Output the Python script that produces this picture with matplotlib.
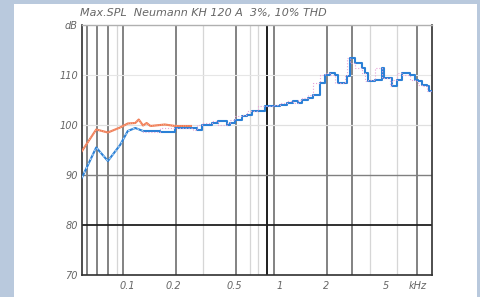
import matplotlib
matplotlib.use("Agg")
import matplotlib.pyplot as plt
from matplotlib.patches import Rectangle

title = "Max.SPL  Neumann KH 120 A  3%, 10% THD"

# Blue curve (3% THD)
blue_freq = [0.050, 0.062, 0.074, 0.089, 0.100, 0.112, 0.126, 0.163, 0.205, 0.269,
             0.285, 0.308, 0.358, 0.393, 0.450, 0.471, 0.508, 0.565, 0.609, 0.657,
             0.719, 0.800, 0.903, 1.005, 1.117, 1.222, 1.318, 1.40, 1.535, 1.66,
             1.84, 1.99, 2.14, 2.31, 2.42, 2.69, 2.77, 2.90, 3.13, 3.48,
             3.64, 3.81, 4.24, 4.71, 4.82, 5.31, 5.47, 5.86, 6.37, 7.19,
             7.76, 8.12, 8.63, 9.31, 9.60, 10.0]
blue_db = [89.5, 95.5, 92.8, 96.0, 98.8, 99.4, 98.8, 98.7, 99.4, 99.4,
           99.1, 100.1, 100.4, 100.8, 100.1, 100.4, 101.1, 101.8, 102.1, 102.8,
           102.8, 103.8, 103.8, 104.1, 104.5, 104.8, 104.5, 105.1, 105.4, 106.1,
           108.4, 110.1, 110.4, 110.1, 108.4, 108.4, 109.8, 113.4, 112.4, 111.4,
           110.4, 108.8, 109.1, 111.4, 109.4, 109.4, 107.8, 109.1, 110.4, 110.1,
           109.1, 108.8, 108.1, 107.8, 106.8, 106.8]

# Orange curve (10% THD)
orange_freq = [0.050, 0.062, 0.074, 0.089, 0.100, 0.112, 0.118, 0.126, 0.133, 0.141,
               0.175, 0.205, 0.260]
orange_db = [94.8, 99.1, 98.5, 99.5, 100.3, 100.4, 101.1, 99.9, 100.4, 99.8,
             100.1, 99.8, 99.8]

grid_dark = [0.054, 0.063, 0.0745, 0.093, 0.2076, 0.515, 0.82, 0.91, 2.04, 3.0, 7.97]
grid_faint = [0.085, 0.314, 0.64, 0.72, 3.9, 5.9]

x_ticks = [0.1, 0.2, 0.5, 1, 2, 5, 8.1]
x_labels = ["0.1", "0.2", "0.5", "1", "2", "5", "kHz"]
y_ticks = [70, 80, 90, 100, 110, 120]
y_labels = ["70", "80", "90", "100", "110", "dB"]

fig = plt.figure(figsize=(4.8, 2.97), dpi=100)
fig.patch.set_facecolor("#b9c9dd")
fig.patches.append(Rectangle((14 / 480, 0), (477 - 14) / 480, 1 - 4 / 297,
                             transform=fig.transFigure, facecolor="white",
                             edgecolor="none", zorder=-5))

ax = fig.add_axes([82 / 480, 1 - 275 / 297, 350 / 480, 250 / 297])
ax.set_facecolor("white")
ax.set_xscale("log")
ax.set_xlim(0.05, 10.0)
ax.set_ylim(70, 120)

for f in grid_faint:
    ax.axvline(f, color="#d6d6d6", lw=0.9, zorder=1)
for f in grid_dark:
    ax.axvline(f, color="#606060", lw=1.1, zorder=1)
ax.axvline(0.82, color="#222222", lw=1.4, zorder=1)

ax.axhline(110, color="#e6e6e6", lw=0.8, zorder=1)
ax.axhline(100, color="#e0e0e0", lw=0.9, zorder=1)
ax.axhline(90, color="#808080", lw=1.0, zorder=1)
ax.axhline(80, color="#202020", lw=1.3, zorder=1)

ax.plot(orange_freq, orange_db, color="#f07a52", lw=1.5, zorder=3)
ax.plot(orange_freq, orange_db, color="#f9c0a8", lw=0.6, ls=":", zorder=3)

n_lin = 7
ax.plot(blue_freq[:n_lin], blue_db[:n_lin], color="#2a80d6", lw=1.5, zorder=4)
ax.plot(blue_freq[n_lin - 1:], blue_db[n_lin - 1:], color="#2a80d6", lw=1.5,
        drawstyle="steps-post", zorder=4)
ax.plot(blue_freq[n_lin - 1:], blue_db[n_lin - 1:], color="#e7a3d8", lw=0.8,
        ls=":", drawstyle="steps-pre", zorder=5)
ax.plot(blue_freq[:n_lin], blue_db[:n_lin], color="#cfe3f7", lw=0.7, ls=(0, (2, 3)), zorder=5)

for s in ["left", "right", "bottom"]:
    ax.spines[s].set_color("#303030")
    ax.spines[s].set_linewidth(1.2)
ax.spines["top"].set_color("#b0b0b0")
ax.spines["top"].set_linewidth(1.0)

ax.set_xticks(x_ticks)
ax.set_xticklabels(x_labels)
ax.xaxis.set_minor_locator(matplotlib.ticker.NullLocator())
ax.set_yticks(y_ticks)
ax.set_yticklabels(y_labels)
ax.tick_params(axis="both", length=0, labelsize=7, labelcolor="#666666")
ax.tick_params(axis="x", pad=4)
ax.tick_params(axis="y", pad=3)
for t in ax.get_xticklabels() + ax.get_yticklabels():
    t.set_fontstyle("italic")

fig.text(80 / 480, 1 - 13 / 297, title, fontsize=8, color="#666666",
         style="italic", va="center", ha="left")

fig.savefig("out.png", dpi=100)
